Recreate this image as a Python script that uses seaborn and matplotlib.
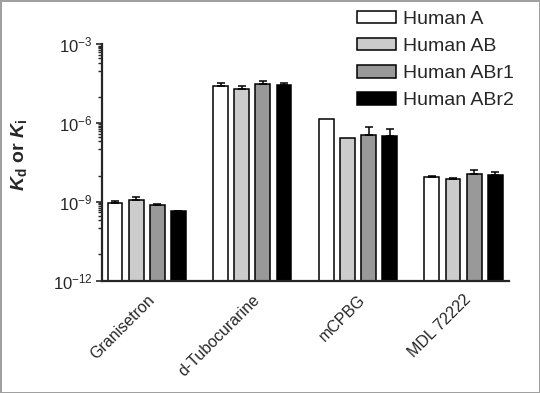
import numpy as np
import pandas as pd
import matplotlib
matplotlib.use('Agg')
import matplotlib.pyplot as plt
import seaborn as sns
from matplotlib.ticker import FixedLocator, NullFormatter

# ligands on the x axis, receptor types as hue
ligands = ['Granisetron', 'd-Tubocurarine', 'mCPBG', 'MDL 72222']
receptors = ['Human A', 'Human AB', 'Human ABr1', 'Human ABr2']

# Kd / Ki values (M), one list per receptor, in ligand order
human_a = [9.4e-10, 2.65e-5, 1.40e-6, 8.9e-9]
human_ab = [1.23e-9, 1.94e-5, 2.79e-7, 7.3e-9]
human_abr1 = [7.9e-10, 3.0e-5, 3.62e-7, 1.16e-8]
human_abr2 = [4.5e-10, 2.75e-5, 3.24e-7, 1.09e-8]

# upper end of the error bars (M)
human_a_top = [1.12e-9, 3.45e-5, 1.40e-6, 9.7e-9]
human_ab_top = [1.5e-9, 2.65e-5, 2.79e-7, 8.1e-9]
human_abr1_top = [8.4e-10, 4.1e-5, 6.9e-7, 1.64e-8]
human_abr2_top = [4.7e-10, 3.27e-5, 5.8e-7, 1.38e-8]

colors = ['white', '#cccccc', '#999999', 'black']

values = [human_a, human_ab, human_abr1, human_abr2]
tops = [human_a_top, human_ab_top, human_abr1_top, human_abr2_top]

rows = []
for rec, vals in zip(receptors, values):
    for lig, v in zip(ligands, vals):
        rows.append({'ligand': lig, 'receptor': rec, 'value': v})
df = pd.DataFrame(rows)

sns.set_style('ticks')
plt.rcParams['font.family'] = ['Liberation Sans', 'DejaVu Sans']
plt.rcParams['mathtext.fontset'] = 'custom'
plt.rcParams['mathtext.rm'] = 'Liberation Sans'
plt.rcParams['mathtext.it'] = 'Liberation Sans:italic:bold'
plt.rcParams['mathtext.bf'] = 'Liberation Sans:bold'

fig, ax = plt.subplots(figsize=(5.4, 3.93), dpi=100)
fig.subplots_adjust(left=101.7 / 540, right=509 / 540,
                    top=1 - 44.3 / 393, bottom=1 - 280.7 / 393)

sns.barplot(data=df, x='ligand', y='value', hue='receptor', order=ligands,
            hue_order=receptors, palette=colors, errorbar=None, gap=0.3,
            edgecolor='black', linewidth=1.1, ax=ax)

# one-sided error bars on top of each bar
for cont, top_vals in zip(ax.containers, tops):
    for bar, top in zip(cont, top_vals):
        h = bar.get_height()
        if top - h <= 0:
            continue
        xc = bar.get_x() + bar.get_width() / 2
        ax.errorbar([xc], [h], yerr=[[0], [top - h]], fmt='none',
                    ecolor='black', elinewidth=1.1, capsize=2.8, capthick=1.1)

ax.set_yscale('log')
ax.set_ylim(1e-12, 1e-3)
ax.set_xlim(-0.426, 3.43)

majors = [1e-12, 1e-9, 1e-6, 1e-3]
ax.yaxis.set_major_locator(FixedLocator(majors))
ax.set_yticklabels([r'$\mathregular{10^{-12}}$', r'$\mathregular{10^{-9}}$',
                    r'$\mathregular{10^{-6}}$', r'$\mathregular{10^{-3}}$'],
                   fontsize=12)
minors = []
for m in majors[1:]:
    minors += [m / 10 * k for k in range(2, 10)] + [m / 10, m / 100]
ax.yaxis.set_minor_locator(FixedLocator(minors))
ax.yaxis.set_minor_formatter(NullFormatter())
ax.tick_params(axis='y', which='major', length=4.5, width=1.2, pad=2)
ax.tick_params(axis='y', which='minor', length=3, width=1.0)
ax.tick_params(axis='x', length=0, pad=8)

for lab in ax.get_xticklabels():
    lab.set_rotation(45)
    lab.set_ha('right')
    lab.set_rotation_mode('anchor')
    lab.set_fontsize(11.5)

ax.set_xlabel('')
ax.set_ylabel(r'$K_\mathbf{d}$ or $K_\mathbf{i}$', fontsize=14, fontweight='bold')
ax.yaxis.set_label_coords(-0.178, 0.534)

for side in ['top', 'right']:
    ax.spines[side].set_visible(False)
for side in ['left', 'bottom']:
    ax.spines[side].set_linewidth(1.6)

handles, labels = ax.get_legend_handles_labels()
ax.legend(handles, labels, loc='upper left', bbox_to_anchor=(357 / 540, 1 - 11 / 393),
          bbox_transform=fig.transFigure, frameon=False, fontsize=14,
          borderpad=0, borderaxespad=0, handlelength=2.0, handleheight=0.6,
          handletextpad=0.35, labelspacing=0.52)

fig.patch.set_edgecolor('#a0a0a0')
fig.patch.set_linewidth(2)
fig.savefig('out.png', dpi=100, edgecolor=fig.get_edgecolor())
